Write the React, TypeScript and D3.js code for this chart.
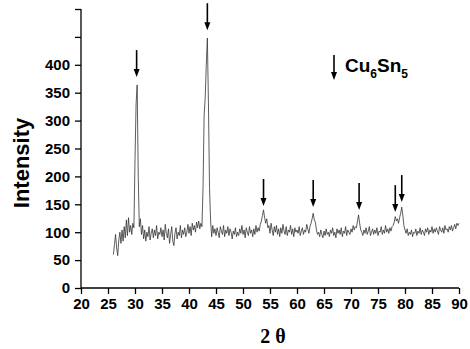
import React, { useEffect, useRef } from 'react'
import * as d3 from 'd3'

// scan grid: 26.0 .. 90.0 deg, step 0.2
const scanStart = 26
const scanStep = 0.2

// intensity, 5 points per degree
const intensity = [
  60, 78, 96, 72, 58,
  86, 100, 80, 104, 84,
  110, 90, 122, 94, 126,
  100, 112, 96, 116, 108,
  230, 330, 364, 200, 110,
  124, 96, 112, 88, 104,
  84, 100, 92, 110, 86,
  98, 106, 90, 104, 94,
  112, 88, 100, 96, 108,
  92, 104, 86, 114, 98,
  90, 106, 80, 96, 110,
  84, 76, 98, 108, 88,
  100, 94, 112, 90, 104,
  96, 108, 92, 100, 114,
  98, 110, 94, 116, 104,
  112, 100, 118, 108, 120,
  106, 116, 110, 180, 310,
  340, 400, 448, 330, 180,
  120, 92, 112, 98, 106,
  94, 108, 100, 90, 110,
  102, 96, 112, 92, 104,
  98, 110, 94, 106, 100,
  88, 102, 96, 108, 92,
  100, 94, 106, 98, 112,
  96, 104, 90, 108, 100,
  94, 110, 98, 104, 92,
  106, 96, 112, 100, 108,
  102, 114, 120, 130, 140,
  126, 116, 124, 108, 112,
  98, 116, 104, 94, 110,
  100, 112, 96, 106, 92,
  108, 98, 114, 102, 96,
  110, 94, 104, 100, 112,
  96, 106, 92, 108, 100,
  104, 98, 110, 94, 102,
  108, 96, 104, 100, 114,
  106, 98, 110, 116, 124,
  134, 122, 118, 104, 96,
  100, 92, 104, 96, 90,
  102, 94, 106, 96, 100,
  92, 104, 98, 108, 94,
  100, 90, 106, 98, 104,
  96, 108, 92, 102, 98,
  110, 94, 104, 100, 96,
  106, 100, 112, 104, 110,
  108, 120, 131, 116, 104,
  100, 94, 104, 98, 108,
  96, 102, 110, 94, 100,
  106, 96, 104, 98, 108,
  94, 102, 100, 110, 96,
  104, 98, 112, 100, 106,
  98, 108, 102, 110, 112,
  118, 128, 120, 124, 116,
  126, 134, 145, 130, 112,
  104, 98, 106, 94, 100,
  96, 104, 92, 100, 98,
  106, 94, 102, 98, 108,
  96, 104, 100, 94, 106,
  100, 108, 96, 104, 100,
  110, 98, 106, 100, 108,
  102, 96, 110, 104, 100,
  108, 98, 112, 104, 106,
  100, 110, 104, 112, 102,
  108, 114, 106, 116, 112,
  116
]

// Cu6Sn5 reflections: [2theta, intensity at arrow tip]
const peakArrows = [
  [30.3, 378],
  [43.4, 462],
  [53.8, 147],
  [63.0, 145],
  [71.5, 140],
  [78.2, 136],
  [79.4, 154]
]

const xTicks = d3.range(20, 91, 5)
const yTicks = d3.range(0, 401, 50)

function App() {
  const ref = useRef<SVGSVGElement>(null)
  const width = 470
  const height = 349

  useEffect(() => {
    const node = ref.current
    if (!node) return
    const svg = d3.select(node)
    svg.selectAll('*').remove()

    const margin = { top: 9, right: 11, bottom: 61, left: 81 }

    const x = d3.scaleLinear()
      .domain([20, 90])
      .range([margin.left, width - margin.right])

    const y = d3.scaleLinear()
      .domain([0, 500])
      .range([height - margin.bottom, margin.top])

    const font = 'Liberation Sans, Arial, sans-serif'

    // x axis
    const xAxis = svg.append('g')
      .attr('transform', `translate(0,${y(0)})`)
    xAxis.call(d3.axisBottom(x).tickValues(d3.range(22.5, 90, 5)).tickSize(3).tickFormat(() => ''))
    xAxis.call(d3.axisBottom(x).tickValues(xTicks).tickSize(6).tickPadding(4).tickFormat(d3.format('d')))
    xAxis.selectAll('.domain').attr('stroke-width', 1.3).attr('d', `M${x(20)},0H${x(90)}`)
    xAxis.selectAll('line').attr('stroke-width', 1.3)
    xAxis.selectAll('text')
      .attr('font-family', font)
      .attr('font-weight', 'bold')
      .attr('font-size', 15)
      .attr('fill', '#000')

    // y axis
    const yAxis = svg.append('g')
      .attr('transform', `translate(${x(20)},0)`)
    yAxis.call(d3.axisLeft(y).tickValues(d3.range(25, 500, 50)).tickSize(3).tickFormat(() => ''))
    yAxis.call(d3.axisLeft(y).tickValues(d3.range(0, 501, 50)).tickSize(6).tickPadding(5)
      .tickFormat(d => (yTicks.includes(+d) ? d3.format('d')(+d) : '')))
    yAxis.selectAll('.domain').attr('stroke-width', 1.3).attr('d', `M0,${y(0)}V${y(500)}`)
    yAxis.selectAll('line').attr('stroke-width', 1.3)
    yAxis.selectAll('text')
      .attr('font-family', font)
      .attr('font-weight', 'bold')
      .attr('font-size', 15)
      .attr('fill', '#000')

    // pattern line
    const line = d3.line<number>()
      .x((d, i) => x(scanStart + i * scanStep))
      .y(d => y(d))

    svg.append('path')
      .datum(intensity)
      .attr('fill', 'none')
      .attr('stroke', '#333')
      .attr('stroke-width', 0.8)
      .attr('stroke-linejoin', 'round')
      .attr('d', line)

    // arrows
    const drawArrow = (px: number, tipY: number, len: number) => {
      svg.append('line')
        .attr('x1', px).attr('x2', px)
        .attr('y1', tipY - len).attr('y2', tipY - 6)
        .attr('stroke', '#000')
        .attr('stroke-width', 1.6)
      svg.append('path')
        .attr('d', `M${px - 3},${tipY - 8}L${px + 3},${tipY - 8}L${px},${tipY}Z`)
        .attr('fill', '#000')
    }

    peakArrows.forEach(([p, v]) => drawArrow(x(p), y(v), 27))

    // legend
    drawArrow(334, 80, 25)
    const label = svg.append('text')
      .attr('x', 345)
      .attr('y', 72)
      .attr('font-family', font)
      .attr('font-weight', 'bold')
      .attr('font-size', 19)
    label.append('tspan').text('Cu')
    label.append('tspan').attr('font-size', 12).attr('dy', 6).text('6')
    label.append('tspan').attr('dy', -6).text('Sn')
    label.append('tspan').attr('font-size', 12).attr('dy', 6).text('5')

    // axis titles
    svg.append('text')
      .attr('transform', `translate(29,${163}) rotate(-90)`)
      .attr('text-anchor', 'middle')
      .attr('font-family', font)
      .attr('font-weight', 'bold')
      .attr('font-size', 22)
      .text('Intensity')

    svg.append('text')
      .attr('x', 273)
      .attr('y', 343)
      .attr('text-anchor', 'middle')
      .attr('font-family', 'Liberation Serif, Times New Roman, serif')
      .attr('font-weight', 'bold')
      .attr('font-size', 20)
      .text('2 θ')
  }, [])

  return (
    <svg ref={ref} width={width} height={height}
      style={{ position: 'absolute', left: 0, top: 0, background: '#fff' }} />
  )
}

export default App
